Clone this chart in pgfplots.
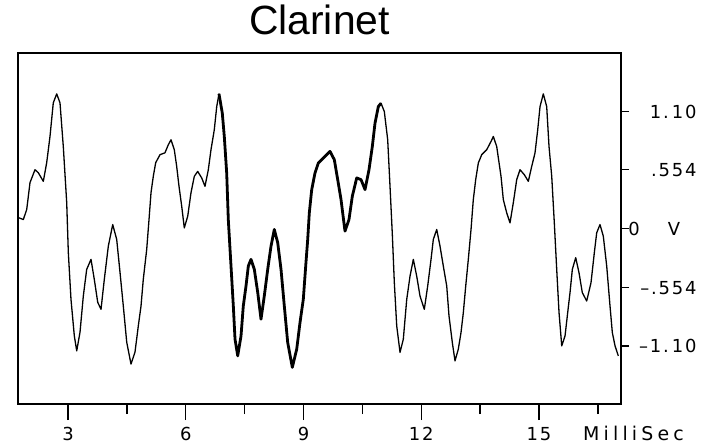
\documentclass[border=0pt]{standalone}
\usepackage{fontspec}
\setmainfont{Liberation Sans}
\newfontfamily\tickfont[LetterSpace=10]{DejaVu Sans}
\newfontfamily\unitfont[LetterSpace=22]{DejaVu Sans}
\usepackage{pgfplots}
\usepackage{pgfplotstable}
\pgfplotsset{compat=1.18}
\usetikzlibrary{calc}

\pgfplotstableread{
x y
1.752 0.102
1.861 0.086
1.948 0.180
2.032 0.433
2.159 0.554
2.243 0.526
2.371 0.445
2.457 0.620
2.541 0.866
2.625 1.182
2.712 1.266
2.796 1.182
2.880 0.772
2.967 0.245
3.008 -0.223
3.076 -0.663
3.161 -1.007
3.222 -1.147
3.306 -0.972
3.390 -0.632
3.476 -0.382
3.586 -0.288
3.670 -0.476
3.757 -0.691
3.841 -0.757
3.925 -0.476
4.027 -0.164
4.139 0.039
4.241 -0.101
4.325 -0.410
4.409 -0.726
4.496 -1.066
4.605 -1.271
4.707 -1.159
4.791 -0.913
4.860 -0.726
4.918 -0.476
5.005 -0.195
5.064 0.086
5.115 0.339
5.173 0.492
5.234 0.620
5.344 0.695
5.471 0.713
5.555 0.788
5.624 0.835
5.708 0.742
5.769 0.585
5.828 0.398
5.897 0.211
5.963 0.008
6.050 0.117
6.134 0.339
6.218 0.492
6.304 0.538
6.406 0.477
6.490 0.398
6.575 0.554
6.643 0.742
6.727 0.929
6.789 1.147
6.847 1.266
6.931 1.085
6.982 0.866
7.043 0.523
7.084 0.086
7.153 -0.351
7.212 -0.726
7.255 -1.037
7.324 -1.194
7.408 -1.007
7.466 -0.726
7.535 -0.538
7.594 -0.351
7.662 -0.288
7.747 -0.382
7.833 -0.597
7.917 -0.850
8.001 -0.632
8.088 -0.382
8.172 -0.164
8.256 -0.007
8.343 -0.132
8.427 -0.382
8.511 -0.726
8.597 -1.068
8.715 -1.302
8.827 -1.131
8.911 -0.881
8.995 -0.663
9.056 -0.351
9.107 -0.101
9.148 0.149
9.209 0.367
9.293 0.523
9.377 0.617
9.505 0.664
9.675 0.726
9.785 0.648
9.871 0.461
9.956 0.273
10.057 -0.023
10.159 0.086
10.243 0.304
10.356 0.477
10.465 0.461
10.567 0.367
10.669 0.554
10.753 0.772
10.822 0.992
10.906 1.147
10.975 1.179
11.059 1.100
11.145 0.835
11.204 0.398
11.263 -0.054
11.314 -0.507
11.375 -0.913
11.459 -1.162
11.543 -1.037
11.630 -0.663
11.714 -0.445
11.798 -0.288
11.884 -0.445
11.968 -0.632
12.078 -0.757
12.164 -0.538
12.249 -0.288
12.307 -0.101
12.394 -0.007
12.478 -0.164
12.562 -0.351
12.649 -0.538
12.707 -0.819
12.791 -1.068
12.860 -1.241
12.944 -1.131
13.013 -0.975
13.072 -0.787
13.133 -0.538
13.199 -0.288
13.268 -0.007
13.326 0.273
13.387 0.461
13.454 0.617
13.540 0.695
13.668 0.742
13.777 0.819
13.836 0.866
13.922 0.772
14.032 0.492
14.091 0.273
14.177 0.149
14.261 0.055
14.345 0.243
14.432 0.461
14.516 0.554
14.626 0.507
14.728 0.445
14.814 0.585
14.898 0.711
14.967 0.929
15.026 1.147
15.110 1.266
15.196 1.147
15.255 0.772
15.324 0.492
15.390 0.055
15.451 -0.382
15.510 -0.787
15.579 -1.100
15.663 -1.007
15.731 -0.787
15.790 -0.600
15.849 -0.382
15.935 -0.272
16.019 -0.413
16.103 -0.600
16.215 -0.679
16.325 -0.507
16.409 -0.226
16.470 -0.038
16.554 0.039
16.638 -0.070
16.725 -0.351
16.809 -0.726
16.868 -0.975
16.937 -1.100
17.021 -1.194
}\wave

\pgfplotstableread{
x y
6.847 1.266
6.931 1.085
6.982 0.866
7.043 0.523
7.084 0.086
7.153 -0.351
7.212 -0.726
7.255 -1.037
7.324 -1.194
7.408 -1.007
7.466 -0.726
7.535 -0.538
7.594 -0.351
7.662 -0.288
7.747 -0.382
7.833 -0.597
7.917 -0.850
8.001 -0.632
8.088 -0.382
8.172 -0.164
8.256 -0.007
8.343 -0.132
8.427 -0.382
8.511 -0.726
8.597 -1.068
8.715 -1.302
8.827 -1.131
8.911 -0.881
8.995 -0.663
9.056 -0.351
9.107 -0.101
9.148 0.149
9.209 0.367
9.293 0.523
9.377 0.617
9.505 0.664
9.675 0.726
9.785 0.648
9.871 0.461
9.956 0.273
10.057 -0.023
10.159 0.086
10.243 0.304
10.356 0.477
10.465 0.461
10.567 0.367
10.669 0.554
10.753 0.772
10.822 0.992
10.906 1.147
10.975 1.179
}\period

\begin{document}
\begin{tikzpicture}
\begin{axis}[
  name=ax,
  scale only axis,
  width=603bp, height=351bp,
  xmin=1.726, xmax=17.089,
  ymin=-1.646, ymax=1.650,
  clip=false,
  axis line style={line width=1.5bp, black},
  tick align=outside,
  xtick pos=bottom, ytick pos=right, yticklabel pos=right,
  xtick={3,6,9,12,15},
  xticklabels={3,6,9,12,15},
  minor xtick={4.5,7.5,10.5,13.5,16.5},
  ytick={-1.1,-0.554,0,0.554,1.1},
  yticklabels={{–1.\hspace{3bp}10},{–.554},{\makebox[71bp][l]{\hspace{3bp}0\hspace{28bp}V}},{.554},{1.\hspace{3bp}10}},
  xtick style={line width=1.3bp, black, /pgfplots/major tick length=16bp, /pgfplots/minor tick length=10bp},
  ytick style={line width=1.3bp, black, /pgfplots/major tick length=8bp},
  xticklabel style={font=\tickfont\fontsize{18}{20}\selectfont, anchor=base, inner sep=0pt, yshift=-32bp},
  yticklabel style={font=\tickfont\fontsize{18}{20}\selectfont, anchor=west, inner sep=0pt, text width=71bp, align=right},
  title={Clarinet},
  title style={font=\fontsize{41}{43}\selectfont, at={(0.5,1)}, anchor=base, yshift=13bp, inner sep=0pt},
]
\addplot[black, line width=1.3bp, line join=round] table[x=x, y=y] {\wave};
\addplot[black, line width=2.8bp, line join=round] table[x=x, y=y] {\period};
\end{axis}
\node[font=\unitfont\fontsize{19}{21}\selectfont, anchor=base west, inner sep=0pt] at ($(ax.south west)+(565bp,-36bp)$) {MilliSec};
\pgfresetboundingbox
\path[use as bounding box] ($(ax.south west)+(-18bp,-40bp)$) rectangle ($(ax.north east)+(94bp,53bp)$);
\end{tikzpicture}
\end{document}
